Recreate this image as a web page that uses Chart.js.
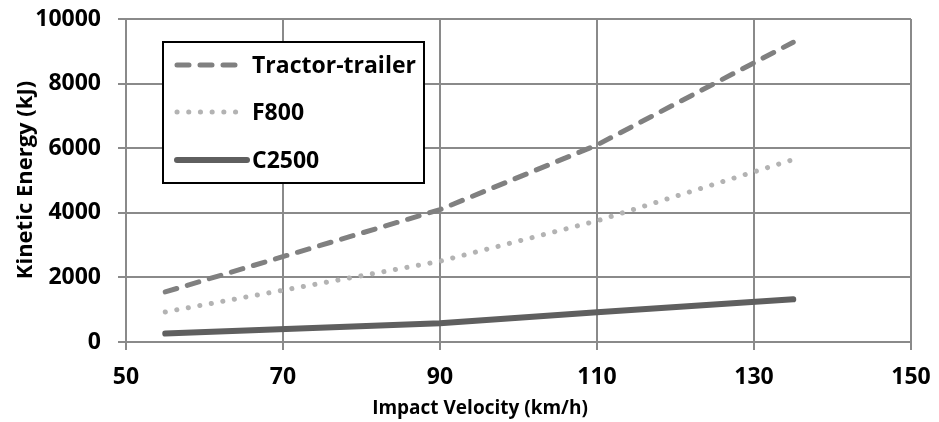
<!DOCTYPE html>
<html>
<head>
<meta charset="utf-8">
<script src="https://cdn.jsdelivr.net/npm/chart.js@4"></script>
<style>
  html,body{margin:0;padding:0;background:#fff;}
  #wrap{width:939px;height:422px;position:relative;}
</style>
</head>
<body>
<div id="wrap"><canvas id="c" width="939" height="422"></canvas></div>
<script>
// ---- data ----
const velocities = [55, 90, 110, 135];            // km/h
const tractorTrailer = [1550, 4100, 6100, 9280];  // kJ
const f800 = [930, 2500, 3750, 5650];             // kJ
const c2500 = [260, 580, 920, 1320];              // kJ
const seriesNames = ['Tractor-trailer', 'F800', 'C2500'];
const xTickValues = [50, 70, 90, 110, 130, 150];
const yTickValues = [0, 2000, 4000, 6000, 8000, 10000];
const xTitle = 'Impact Velocity (km/h)';
const yTitle = 'Kinetic Energy (kJ)';

const FONT = '"Open Sans", "DejaVu Sans", sans-serif';
const GRID = '#8a8a8a';

function pts(ys){ return velocities.map((v,i)=>({x:v, y:ys[i]})); }

const styles = [
  {borderColor:'#808080', borderWidth:5, borderDash:[12,11], borderCapStyle:'round'},
  {borderColor:'#b3b3b3', borderWidth:5, borderDash:[0.1,11.6], borderCapStyle:'round'},
  {borderColor:'#5f5f5f', borderWidth:6, borderDash:[], borderCapStyle:'round'}
];
const allData = [tractorTrailer, f800, c2500];

const datasets = allData.map((d,i)=>Object.assign({
  label: seriesNames[i],
  data: pts(d),
  pointRadius: 0,
  fill: false,
  tension: 0
}, styles[i]));

const legendPlugin = {
  id: 'boxLegend',
  afterDraw(chart){
    const ctx = chart.ctx;
    ctx.save();
    const bx = 163, by = 42, bw = 261, bh = 141;
    ctx.fillStyle = '#fff';
    ctx.fillRect(bx, by, bw, bh);
    ctx.strokeStyle = '#000';
    ctx.lineWidth = 2;
    ctx.strokeRect(bx, by, bw, bh);
    const rows = [65, 112, 160];
    const ends = [240, 240, 247];
    chart.data.datasets.forEach((ds, i)=>{
      ctx.beginPath();
      ctx.strokeStyle = ds.borderColor;
      ctx.lineWidth = ds.borderWidth;
      ctx.lineCap = ds.borderCapStyle;
      ctx.setLineDash(ds.borderDash);
      ctx.moveTo(177, rows[i]);
      ctx.lineTo(ends[i], rows[i]);
      ctx.stroke();
      ctx.setLineDash([]);
      ctx.fillStyle = '#000';
      ctx.font = 'bold 23px ' + FONT;
      ctx.textBaseline = 'middle';
      ctx.textAlign = 'left';
      ctx.fillText(ds.label, 252, rows[i] + 1);
    });
    // axis titles
    ctx.fillStyle = '#000';
    ctx.font = 'bold 19px ' + FONT;
    ctx.textAlign = 'center';
    ctx.textBaseline = 'middle';
    ctx.fillText(xTitle, 480, 409);
    ctx.save();
    ctx.font = 'bold 22px ' + FONT;
    ctx.translate(26, 180);
    ctx.rotate(-Math.PI/2);
    ctx.fillText(yTitle, 0, 0);
    ctx.restore();
    ctx.restore();
  }
};

new Chart(document.getElementById('c'), {
  type: 'line',
  data: { datasets },
  options: {
    responsive: false,
    animation: false,
    events: [],
    layout: { padding: { left: 0, right: 28, top: 19, bottom: 0 } },
    plugins: { legend: { display: false }, tooltip: { enabled: false }, title: { display: false } },
    scales: {
      x: {
        type: 'linear',
        min: 50, max: 150,
        afterBuildTicks(s){ s.ticks = xTickValues.map(v=>({value:v})); },
        afterFit(s){ s.height = 80; s.paddingLeft = 0; s.paddingRight = 0; },
        ticks: { color:'#000', font:{family:FONT, size:23, weight:'bold'}, padding: 14, maxRotation:0,
                 callback: v => String(v) },
        grid: { color: GRID, lineWidth: 2, tickLength: 8, drawTicks: true },
        border: { color: GRID, width: 2 }
      },
      y: {
        min: 0, max: 10000,
        afterBuildTicks(s){ s.ticks = yTickValues.map(v=>({value:v})); },
        afterFit(s){ s.width = 126; s.paddingTop = 0; s.paddingBottom = 0; },
        ticks: { color:'#000', font:{family:FONT, size:23, weight:'bold'}, padding: 17,
                 callback: v => String(v) },
        grid: { color: GRID, lineWidth: 2, tickLength: 8, drawTicks: true },
        border: { color: GRID, width: 2 }
      }
    }
  },
  plugins: [legendPlugin]
});
</script>
</body>
</html>
